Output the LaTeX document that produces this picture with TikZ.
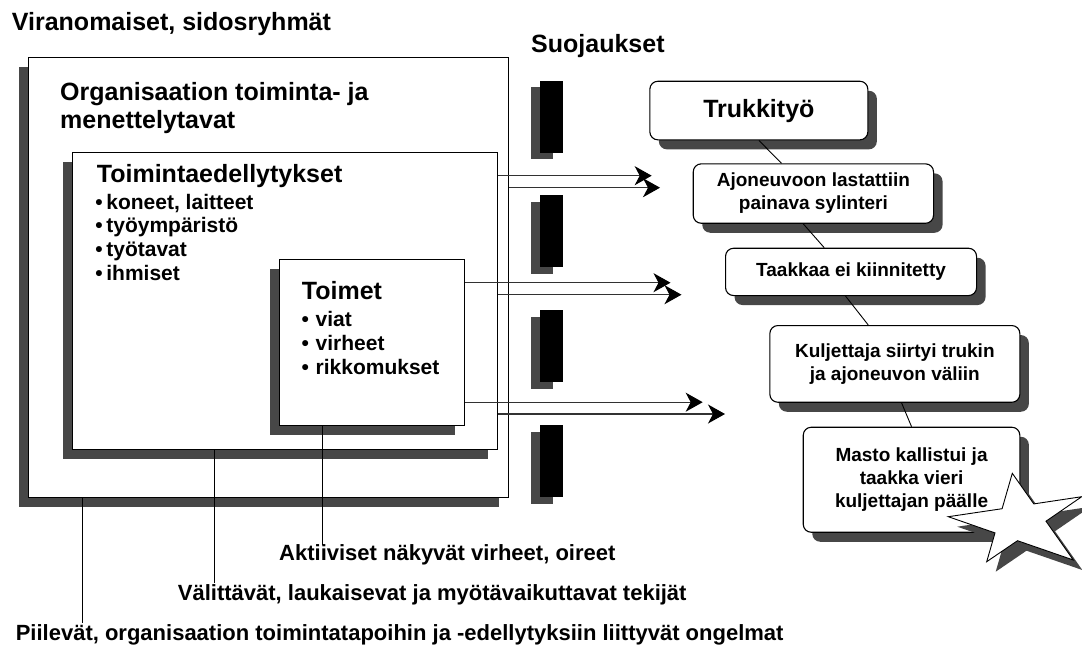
\documentclass[tikz,border=0pt]{standalone}
\usepackage{fontspec}
\setmainfont{Liberation Sans}
\usetikzlibrary{arrows.meta,calc,shadows}

\definecolor{shadowgray}{RGB}{71,71,71}
\definecolor{wire}{RGB}{50,50,50}

\newcommand{\bigtxt}{\fontsize{25}{28}\selectfont\bfseries}
\newcommand{\listtxt}{\fontsize{21}{23.6}\selectfont\bfseries}
\newcommand{\boxtxt}{\fontsize{19}{23}\selectfont\bfseries}
\newcommand{\lbltxt}{\fontsize{22}{26}\selectfont\bfseries}
\newcommand{\dotitem}[1]{\makebox[#1][l]{\textbullet}}

\tikzset{
  sqbox/.style={draw, fill=white, line width=1.1pt, inner sep=0pt, anchor=north west,
    general shadow={fill=shadowgray, shadow xshift=-9.5pt, shadow yshift=-9.5pt}},
  rndbox/.style={draw, fill=white, line width=1.1pt, rounded corners=8pt, inner sep=0pt,
    anchor=north west, align=center, font=\boxtxt,
    general shadow={fill=shadowgray, shadow xshift=9pt, shadow yshift=-9.5pt}},
  txt/.style={inner sep=0pt, anchor=base west, align=left},
  flow/.style={wire, line width=1.1pt, -{Stealth[length=17pt,width=19pt,inset=5pt,black]}},
  tie/.style={line width=0.9pt}
}

\begin{document}
\begin{tikzpicture}[x=1pt,y=-1pt]
\useasboundingbox (0,0) rectangle (1082,648);

% nested boxes
\node[sqbox, minimum width=479.4pt, minimum height=440pt] (org) at (28.3,57.3) {};
\node[sqbox, minimum width=424.7pt, minimum height=297pt] (edel) at (72.3,152.3) {};
\node[sqbox, minimum width=185.3pt, minimum height=166pt] (toim) at (279,259.3) {};

% multi-line nodes sit on the baseline of their last line
\node[txt, font=\bigtxt] (vir) at (11.7,30) {Viranomaiset, sidosryhmät};
\node[txt, font=\bigtxt] (suo) at (531,52.3) {Suojaukset};
\node[txt, font=\bigtxt] (orgt) at (60,128) {Organisaation toiminta- ja\\menettelytavat};
\node[txt, font=\bigtxt] (edelt) at (96.7,182.7) {Toimintaedellytykset};
\node[txt, font=\listtxt] (edell) at (95.2,280) {\dotitem{11pt}koneet, laitteet\\
  \dotitem{11pt}työympäristö\\ \dotitem{11pt}työtavat\\ \dotitem{11pt}ihmiset};
\node[txt, font=\bigtxt] (toimt) at (301.7,299.3) {Toimet};
\node[txt, font=\listtxt] (toiml) at (301.5,374) {\dotitem{14pt}viat\\
  \dotitem{14pt}virheet\\ \dotitem{14pt}rikkomukset};

% suojaukset
\foreach \yy in {80.7,195,310.3,425.3}{
  \fill[shadowgray] (531,\yy+6.5) rectangle ++(22.4,72);
  \fill[black] (540.3,\yy) rectangle ++(22.4,72);
}

% arrows through the gaps
\coordinate (a1) at (651.7,175.7);
\coordinate (a2) at (660,187.7);
\coordinate (a3) at (670.5,282.7);
\coordinate (a4) at (681.5,294.7);
\coordinate (a5) at (702.7,402.2);
\coordinate (a6) at (725,414);
\draw[flow] (edel.east |- a1) -- (a1);
\draw[flow] (org.east |- a2) -- (a2);
\draw[flow] (toim.east |- a3) -- (a3);
\draw[flow] (edel.east |- a4) -- (a4);
\draw[flow] (toim.east |- a5) -- (a5);
\draw[flow] (edel.east |- a6) -- (a6);

% chain of events
\node[rndbox, minimum width=218pt, minimum height=58.6pt, font=\bigtxt] (truk) at (649.3,80.7) {Trukkityö};
\node[rndbox, minimum width=240.3pt, minimum height=59.4pt] (ajo) at (692.7,163.3) {Ajoneuvoon lastattiin\\painava sylinteri};
\node[rndbox, minimum width=251pt, minimum height=47.3pt] (taak) at (725,247.7) {Taakkaa ei kiinnitetty};
\node[rndbox, minimum width=250pt, minimum height=76.7pt] (kulj) at (769.3,325) {Kuljettaja siirtyi trukin\\ja ajoneuvon väliin};
\node[rndbox, minimum width=216.6pt, minimum height=105pt] (masto) at (802.7,426.7) {Masto kallistui ja\\taakka vieri\\kuljettajan päälle};

\draw[tie] (truk.south) -- ([xshift=-31.9pt]ajo.north);
\draw[tie] ([xshift=-10.2pt]ajo.south) -- ([xshift=-26.8pt]taak.north);
\draw[tie] ([xshift=-5.5pt]taak.south) -- ([xshift=-26.6pt]kulj.north);
\draw[tie] ([xshift=6.7pt]kulj.south) -- (masto.north);

% star
\draw[fill=white, line width=0.9pt, general shadow={fill=shadowgray, shadow xshift=9pt, shadow yshift=-10pt}]
  (1012.3,473.3) -- (1033.8,503.9) -- (1081.7,496.7) -- (1046,521.2) -- (1073.3,560)
  -- (1017.5,540.7) -- (986.7,561.7) -- (995,532.9) -- (948.3,516.7) -- (1002.1,508.7) -- cycle;

% labels below
\node[txt, font=\lbltxt] (akt) at (279,560) {Aktiiviset näkyvät virheet, oireet};
\node[txt, font=\lbltxt] (val) at (177.7,600) {Välittävät, laukaisevat ja myötävaikuttavat tekijät};
\node[txt, font=\lbltxt] (pii) at (15.6,640) {Piilevät, organisaation toimintatapoihin ja -edellytyksiin liittyvät ongelmat};
\coordinate (l1) at (322.3,545);
\coordinate (l2) at (214.3,583);
\coordinate (l3) at (82.6,623);
\draw[tie] (toim.south -| l1) -- (l1);
\draw[tie] (edel.south -| l2) -- (l2);
\draw[tie] (org.south -| l3) -- (l3);
\end{tikzpicture}
\end{document}
